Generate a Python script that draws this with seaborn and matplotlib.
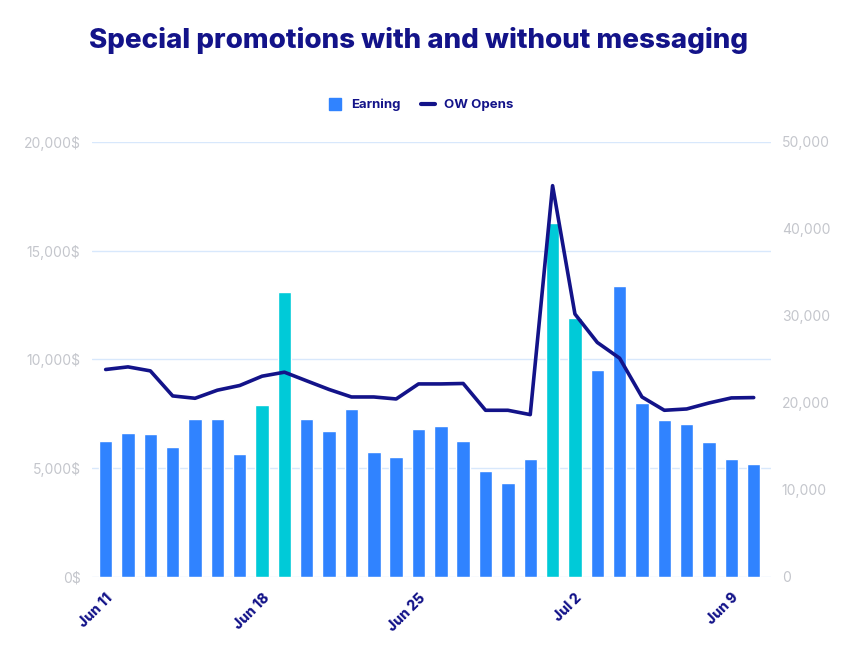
import matplotlib
matplotlib.use("Agg")
import matplotlib.pyplot as plt
from matplotlib.lines import Line2D
import seaborn as sns
import pandas as pd

# data
days = list(range(30))
earning = [6250, 6620, 6550, 5950, 7250, 7250, 5660, 7900, 13080, 7250,
           6700, 7710, 5735, 5505, 6810, 6950, 6240, 4860, 4310, 5400,
           16280, 11880, 9510, 13370, 7990, 7190, 7020, 6210, 5400, 5200]
ow_opens = [23830, 24130, 23670, 20790, 20520, 21450, 21990, 23060, 23520, 22520,
            21530, 20670, 20670, 20440, 22170, 22170, 22220, 19140, 19140, 18640,
            44970, 30210, 26940, 25130, 20670, 19140, 19290, 19980, 20560, 20600]
promo_days = [7, 8, 20, 21]
tick_pos = [0, 7, 14, 21, 28]
tick_labels = ["Jun 11", "Jun 18", "Jun 25", "Jul 2", "Jun 9"]

blue = "#3083FF"
teal = "#00CAD8"
navy = "#131389"
grey = "#C4C6CC"

df = pd.DataFrame({"day": days, "earning": earning, "opens": ow_opens})
colors = [teal if d in promo_days else blue for d in days]

sns.set_style("white")
plt.rcParams['font.family'] = ['Inter', 'DejaVu Sans']

fig = plt.figure(figsize=(8.64, 6.48), dpi=100)
ax = fig.add_axes([0.106, 0.110, 0.786, 0.671])

sns.barplot(data=df, x="day", y="earning", hue="day", palette=colors,
            legend=False, width=0.6, saturation=1, ax=ax)
ax.set_ylim(0, 20000)
ax.set_yticks([0, 5000, 10000, 15000, 20000])
ax.set_yticklabels([f"{v:,}$" for v in [0, 5000, 10000, 15000, 20000]])
ax.grid(axis="y", color="#D8E8FC", linewidth=1)
ax.set_axisbelow(True)

ax2 = ax.twinx()
sns.lineplot(data=df, x="day", y="opens", color=navy, linewidth=2.6, ax=ax2)
ax2.set_ylim(0, 50000)
ax2.set_yticks(range(0, 50001, 10000))
ax2.set_yticklabels([f"{v:,}" for v in range(0, 50001, 10000)])

ax.set_xlim(-0.63, 29.76)
ax.set_xticks(tick_pos)
ax.set_xticklabels(tick_labels, rotation=45, ha="right", rotation_mode="anchor",
                   color=navy, fontweight="heavy", fontsize=10)
ax.tick_params(axis="x", length=0, pad=10)
ax.tick_params(axis="y", length=0, labelcolor=grey, labelsize=10, pad=8)
ax2.tick_params(axis="y", length=0, labelcolor=grey, labelsize=10, pad=8)
for a in (ax, ax2):
    a.set_xlabel("")
    a.set_ylabel("")
    for s in a.spines.values():
        s.set_visible(False)

handles = [Line2D([], [], marker="s", linestyle="none", markersize=9,
                  markerfacecolor=blue, markeredgecolor=blue),
           Line2D([], [], color=navy, linewidth=3)]
fig.legend(handles, ["Earning", "OW Opens"], loc="center", bbox_to_anchor=(0.487, 0.838),
           ncol=2, frameon=False, handlelength=1.0, columnspacing=1.6, handletextpad=0.7,
           prop={"weight": "bold", "size": 9.5}, labelcolor=navy)

fig.text(0.484, 0.938, "Special promotions with and without messaging", ha="center",
         va="center", fontsize=20, fontweight="heavy", color=navy)

fig.savefig("out.png", dpi=100)
